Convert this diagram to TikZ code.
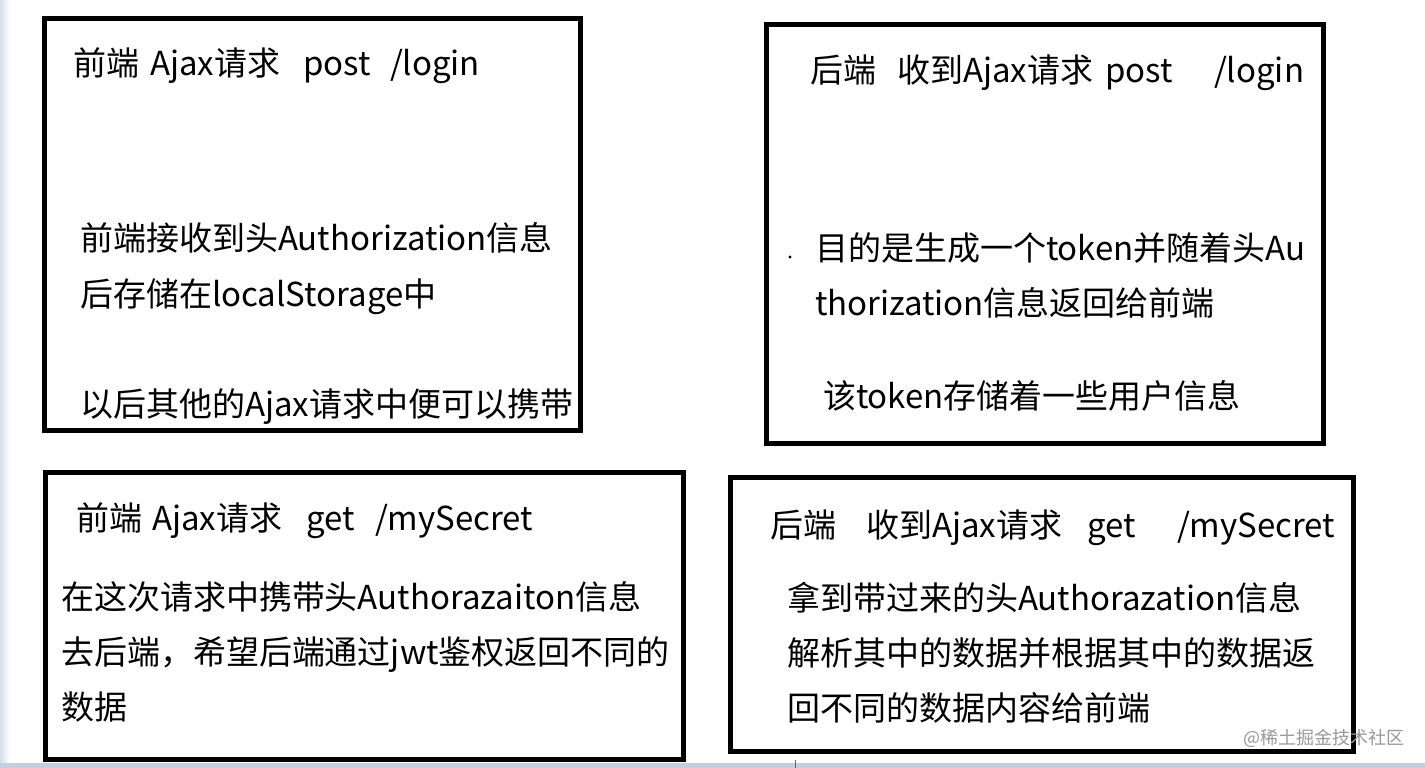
\documentclass[tikz,border=0pt]{standalone}
\usepackage{fontspec}
\setmainfont{Noto Sans CJK SC}
\definecolor{stripL}{RGB}{214,222,234}
\definecolor{stripB}{RGB}{196,207,221}
\begin{document}
\begin{tikzpicture}[x=1pt,y=-1pt,
  frame/.style={draw=black,line width=5pt},
  txt/.style={anchor=base west,inner sep=0pt,outer sep=0pt,font=\fontsize{33}{33}\selectfont},
  wm/.style={anchor=base west,inner sep=0pt,text=black!40,font=\fontsize{18}{18}\selectfont}]
\useasboundingbox (0,0) rectangle (1425,768);
\fill[white] (0,0) rectangle (1425,768);
\fill[left color=stripL,right color=white] (0,0) rectangle (10,768);
\fill[stripB] (0,763) rectangle (1425,768);
\draw[black!60,line width=1pt] (795,760) -- (795,768);
% boxes
\draw[frame] (44.5,18.5) rectangle (580.5,430.5);
\draw[frame] (766.5,24.5) rectangle (1323.5,443.5);
\draw[frame] (45.5,472.5) rectangle (683.5,759.5);
\draw[frame] (730.5,477.5) rectangle (1353.5,751.5);
% box 1
\node[txt] (a1) at (73,75) {前端};
\node[txt] (a2) at (150,75) {Ajax请求};
\node[txt] (a3) at (303,75) {post};
\node[txt] (a4) at (390,75) {/login};
\node[txt] (a5) at (80,250) {前端接收到头Authorization信息};
\node[txt] (a6) at (80,306) {后存储在localStorage中};
\node[txt] (a7) at (80,416) {以后其他的Ajax请求中便可以携带};
% box 2
\node[txt] (b1) at (810,82) {后端};
\node[txt] (b2) at (897,82) {收到Ajax请求};
\node[txt] (b3) at (1105,82) {post};
\node[txt] (b4) at (1214,82) {/login};
\fill (790,257) circle (1.6);
\node[txt] (b5) at (815,260) {目的是生成一个token并随着头Au};
\node[txt] (b6) at (815,315) {thorization信息返回给前端};
\node[txt] (b7) at (823,408) {该token存储着一些用户信息};
% box 3
\node[txt] (c1) at (76,530) {前端};
\node[txt] (c2) at (152,530) {Ajax请求};
\node[txt] (c3) at (306,530) {get};
\node[txt] (c4) at (375,530) {/mySecret};
\node[txt] (c5) at (61,609) {在这次请求中携带头Authorazaiton信息};
\node[txt] (c6) at (61,664) {去后端，希望后端通过jwt鉴权返回不同的};
\node[txt] (c7) at (61,719) {数据};
% box 4
\node[txt] (d1) at (770,537) {后端};
\node[txt] (d2) at (866,537) {收到Ajax请求};
\node[txt] (d3) at (1087,537) {get};
\node[txt] (d4) at (1177,537) {/mySecret};
\node[txt] (d5) at (787,610) {拿到带过来的头Authorazation信息};
\node[txt] (d6) at (787,665) {解析其中的数据并根据其中的数据返};
\node[txt] (d7) at (787,720) {回不同的数据内容给前端};
% watermark
\node[wm] (w) at (1243,744) {@稀土掘金技术社区};
\end{tikzpicture}
\end{document}
